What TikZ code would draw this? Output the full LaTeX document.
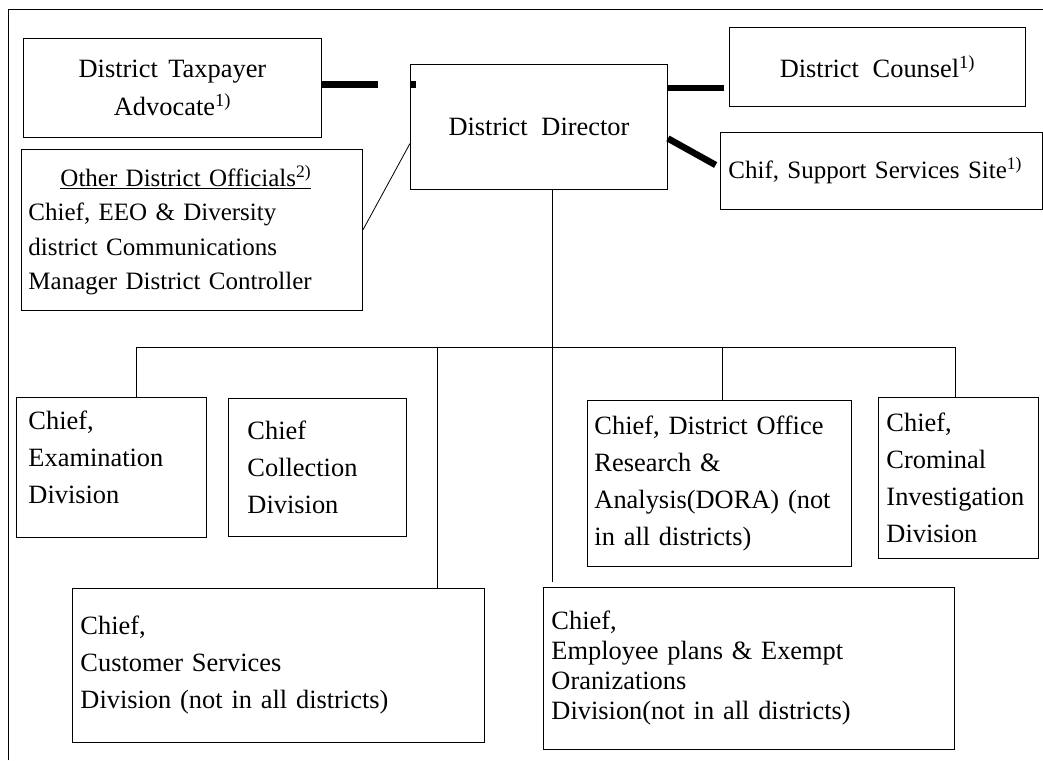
\documentclass[tikz,border=0pt]{standalone}
\usepackage{fontspec}
\setmainfont{Liberation Serif}

% box text: size, baselineskip, wide word spaces
\newcommand\orgfont[2]{\fontsize{#1}{#2}\selectfont\spaceskip=.52em plus .05em minus .05em\relax}
\newcommand\advfont{\fontsize{26.4}{38}\selectfont\spaceskip=.4em plus .05em minus .05em\relax}

\begin{document}
\begin{tikzpicture}[x=1pt, y=-1pt,
    box/.style={draw, line width=0.9pt, anchor=north west, inner ysep=0pt, font=\orgfont{26.4}{37}},
    heavy/.style={line width=6.5pt},
    thin/.style={line width=0.8pt}]
  \useasboundingbox (0,0) rectangle (1043,760);
  \draw[line width=0.9pt] (8,760) -- (8,9) -- (1043,9);

  % top row
  \node[box, minimum width=298pt, minimum height=99pt, align=center, font=\advfont] (adv) at (23,38) {District Taxpayer\\Advocate\textsuperscript{1)}};
  \node[box, minimum width=257pt, minimum height=125pt] (dir) at (410,64) {District Director};
  \node[box, minimum width=296pt, minimum height=79pt] (couns) at (729,27) {District Counsel\textsuperscript{1)}};
  \node[box, minimum width=322pt, minimum height=77pt, inner xsep=8pt, text width=306pt, align=left, font=\orgfont{25}{37}] (supp) at (720,132) {Chif, Support Services Site\textsuperscript{1)}};
  \node[box, minimum width=341pt, minimum height=161pt, inner xsep=7pt, text width=327pt, align=left, font=\orgfont{25}{34.5}] (offic) at (21,149)
    {\hbox to 327pt{\hskip 32pt\underline{Other District Officials\textsuperscript{2)}}\hss}\\ Chief, EEO \& Diversity\\ district Communications\\ Manager District Controller};

  % divisions
  \node[box, minimum width=190pt, minimum height=140pt, inner xsep=12pt, text width=166pt, align=left] (exam) at (16,397) {Chief,\\ Examination\\ Division\rule[-20pt]{0pt}{0pt}};
  \node[box, minimum width=178pt, minimum height=138pt, inner xsep=19pt, text width=140pt, align=left] (coll) at (228,398) {Chief\\ Collection\\ Division};
  \node[box, minimum width=412pt, minimum height=154pt, inner xsep=8pt, text width=396pt, align=left] (cust) at (72,588) {Chief,\\ Customer Services\\ Division (not in all districts)};
  \node[box, minimum width=264pt, minimum height=166pt, inner xsep=7pt, text width=250pt, align=left] (dora) at (587,400) {Chief, District Office\\ Research \&\\ Analysis(DORA) (not\\ in all districts)};
  \node[box, minimum width=160pt, minimum height=161pt, inner xsep=8pt, text width=144pt, align=left] (crim) at (878,397) {Chief,\\ Crominal\\ Investigation\\ Division};
  \node[box, minimum width=411pt, minimum height=162pt, inner xsep=8pt, text width=395pt, align=left, font=\orgfont{26.4}{30}] (empl) at (543,587) {Chief,\\ Employee plans \& Exempt\\ Oranizations\\ Division(not in all districts)};

  % staff links
  \coordinate (a1) at ([yshift=3.5pt]adv.east);
  \draw[heavy, dash pattern=on 56pt off 33pt on 10pt, shorten >=-6pt] (a1) -- (a1 -| dir.west);
  \coordinate (d1) at ([yshift=-24pt]dir.north east);
  \draw[heavy, shorten >=5pt] (d1) -- (d1 -| couns.west);
  \draw[heavy, shorten >=5pt] ([yshift=-11.5pt]dir.east) -- ([yshift=3.5pt]supp.west);
  \draw[thin] ([yshift=-16.5pt]dir.west) -- (offic.east);

  % line links
  \coordinate (v) at ([xshift=13.5pt]dir.south);
  \draw[thin, shorten >=5pt] (v) -- (v |- empl.north);
  \coordinate (bl) at (136,347);
  \coordinate (br) at (955,347);
  \draw[thin] (bl) -- (br);
  \foreach \nm/\x in {exam/136, cust/437, dora/722, crim/955} {
    \coordinate (t\nm) at (\x,347);
    \draw[thin] (t\nm) -- (t\nm |- \nm.north);
  }
\end{tikzpicture}
\end{document}
